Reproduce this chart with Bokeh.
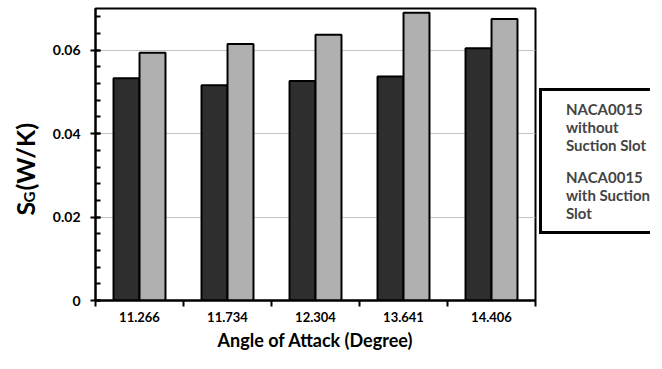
import math
import numpy as np
from bokeh.plotting import figure
from bokeh.layouts import row
from bokeh.models import (ColumnDataSource, Range1d, FixedTicker, LinearAxis,
                          Legend, LegendItem, Label, CustomJSTickFormatter)
from bokeh.transform import dodge
from bokeh.embed import file_html
from bokeh.resources import INLINE

# ---- data ----
angles = ["11.266", "11.734", "12.304", "13.641", "14.406"]
without_slot = [0.0533, 0.0516, 0.0526, 0.0537, 0.0605]
with_slot = [0.0594, 0.0615, 0.0637, 0.0690, 0.0675]
y_major = [0, 0.02, 0.04, 0.06]
series_names = ["NACA0015\nwithout\nSuction Slot", "NACA0015\nwith Suction\nSlot"]
x_title = "Angle of Attack (Degree)"
y_title_parts = ["S", "G", "(W/K)"]

FONT = "Lato"
DARK = "#2e2e2e"
LIGHT = "#b0b0b0"
H = 356

n = len(angles)
centers = [i + 0.5 for i in range(n)]
src = ColumnDataSource(dict(xc=centers, angle=angles, without=without_slot, withs=with_slot))


def bare_figure(w):
    f = figure(width=w, height=H, x_range=Range1d(0, 1), y_range=Range1d(0, 1),
               output_backend="svg", toolbar_location=None, x_axis_location=None, y_axis_location=None,
               min_border=0, min_border_left=0, min_border_right=0, min_border_top=0, min_border_bottom=0)
    f.outline_line_color = None
    f.background_fill_color = "white"
    f.border_fill_color = "white"
    for g in f.grid:
        g.visible = False
    return f


# ---- narrow figure carrying the y-axis title (with subscript) ----
tf = bare_figure(44)
lab_kw = dict(x_units="screen", y_units="screen", angle=math.pi / 2, text_font=FONT,
              text_font_style="bold", text_color="black", text_baseline="middle", text_align="left")
tf.add_layout(Label(x=24, y=85, text=y_title_parts[0], text_font_size="25px", **lab_kw))
tf.add_layout(Label(x=28, y=98, text=y_title_parts[1], text_font_size="15px", **lab_kw))
tf.add_layout(Label(x=24, y=110, text=y_title_parts[2], text_font_size="25px", **lab_kw))

# ---- main chart ----
p = figure(x_range=Range1d(0, n), y_range=Range1d(0, 0.07), width=493, height=H,
           output_backend="svg", toolbar_location=None, x_axis_location=None,
           min_border_left=51, min_border_right=2, min_border_top=8, min_border_bottom=56)
p.background_fill_color = "white"
p.border_fill_color = "white"
p.outline_line_color = "black"
p.outline_line_width = 2
p.xgrid.visible = False

yax = p.yaxis[0]
yax.ticker = FixedTicker(ticks=y_major, minor_ticks=[round(v, 4) for v in np.arange(0, 0.0701, 0.004)])
yax.formatter = CustomJSTickFormatter(code="return tick == 0 ? '0' : tick.toFixed(2);")
yax.axis_line_width = 2
yax.axis_line_color = "black"
yax.major_tick_line_width = 2
yax.minor_tick_line_width = 2
yax.major_tick_in = 5
yax.major_tick_out = 5
yax.minor_tick_in = 5
yax.minor_tick_out = 0
yax.major_label_text_font = FONT
yax.major_label_text_font_style = "bold"
yax.major_label_text_font_size = "14px"
yax.major_label_text_color = "black"
yax.major_label_standoff = 10
p.ygrid.grid_line_color = "#c4c4c4"
p.ygrid.grid_line_width = 1

# x axes: ticks at category boundaries + labels at category centres
tax = LinearAxis(ticker=FixedTicker(ticks=list(range(n + 1)), minor_ticks=[]))
tax.axis_line_width = 2
tax.axis_line_color = "black"
tax.major_tick_line_width = 2
tax.major_tick_in = 0
tax.major_tick_out = 6
tax.minor_tick_line_color = None
tax.major_label_text_color = None
tax.major_label_text_font_size = "1px"
tax.major_label_standoff = 0
p.add_layout(tax, "below")

cax = LinearAxis(ticker=FixedTicker(ticks=centers, minor_ticks=[]),
                 major_label_overrides={c: a for c, a in zip(centers, angles)})
cax.axis_line_color = None
cax.major_tick_line_color = None
cax.minor_tick_line_color = None
cax.major_tick_in = 0
cax.major_tick_out = 0
cax.major_label_text_font = FONT
cax.major_label_text_font_style = "bold"
cax.major_label_text_font_size = "13px"
cax.major_label_text_color = "black"
cax.major_label_standoff = 5
cax.axis_label = x_title
cax.axis_label_text_font = FONT
cax.axis_label_text_font_style = "bold"
cax.axis_label_text_font_size = "18px"
cax.axis_label_text_color = "black"
cax.axis_label_standoff = 4
p.add_layout(cax, "below")

bar_style = [dict(fill_color=DARK, line_color="black", line_width=2),
             dict(fill_color=LIGHT, line_color="black", line_width=2)]
p.vbar(x=dodge("xc", -0.1477), top="without", width=0.295, source=src, **bar_style[0])
p.vbar(x=dodge("xc", 0.1477), top="withs", width=0.295, source=src, **bar_style[1])

# ---- legend panel on the right (swatches share the bar styles) ----
lf = bare_figure(113)
sw1 = lf.vbar(x=[], top=[], width=0.3, **bar_style[0])
sw2 = lf.vbar(x=[], top=[], width=0.3, **bar_style[1])
legend = Legend(items=[LegendItem(label=series_names[0], renderers=[sw1]),
                       LegendItem(label=series_names[1], renderers=[sw2])],
                location=(2, 66), margin=0, padding=9, spacing=14,
                glyph_width=10, glyph_height=10, label_standoff=5,
                label_text_font=FONT, label_text_font_style="bold", label_text_font_size="15px",
                border_line_color="black", border_line_width=3, border_line_alpha=1,
                background_fill_color="white", background_fill_alpha=1)
lf.add_layout(legend, "center")

layout = row(tf, p, lf)
open("out.html", "w").write(file_html(layout, INLINE))
